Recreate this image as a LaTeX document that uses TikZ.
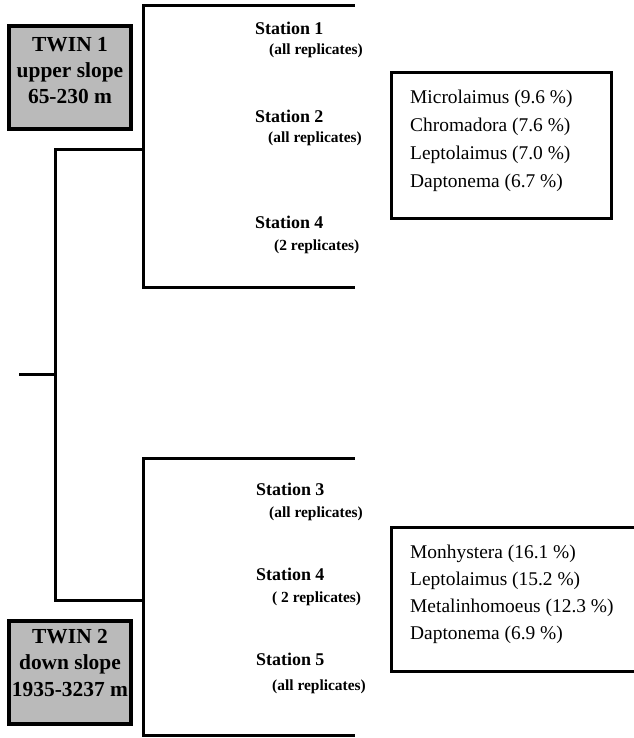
\documentclass[tikz,border=0pt]{standalone}
\usepackage{fontspec}
\setmainfont{Liberation Serif}
\begin{document}
\begin{tikzpicture}[x=1bp,y=-1bp,
  branch/.style={line width=3bp,line cap=rect,line join=miter},
  twinbox/.style={draw,line width=4bp,fill=black!27,minimum width=122bp,minimum height=103bp,inner sep=0pt},
  twintext/.style={align=center,font=\fontsize{21.5}{26.5}\selectfont\bfseries,inner sep=0pt},
  stationlbl/.style={anchor=base west,inner sep=0pt,font=\fontsize{18}{20}\selectfont\bfseries},
  replbl/.style={anchor=base west,inner sep=0pt,font=\fontsize{15.5}{18}\selectfont\bfseries},
  genus/.style={anchor=base west,inner sep=0pt,font=\fontsize{19.5}{22}\selectfont},
  listbox/.style={line width=3bp}
]
\useasboundingbox (0,0) rectangle (634,738);

% dendrogram coordinates
\coordinate (stub) at (20,374);
\coordinate (rootTop) at (55,149);
\coordinate (rootBot) at (55,600);
\coordinate (rootMid) at (55,374);
\coordinate (upJoin) at (143,149);
\coordinate (upTop) at (143,6);
\coordinate (upBot) at (143,287);
\coordinate (upTopEnd) at (353,6);
\coordinate (upBotEnd) at (353,287);
\coordinate (loJoin) at (143,600);
\coordinate (loTop) at (143,458);
\coordinate (loBot) at (143,735);
\coordinate (loTopEnd) at (353,458);
\coordinate (loBotEnd) at (353,735);

\draw[branch] (stub) -- (rootMid);
\draw[branch] (upJoin) -- (rootTop) -- (rootBot) -- (loJoin);
\draw[branch] (upTopEnd) -- (upTop) -- (upBot) -- (upBotEnd);
\draw[branch] (loTopEnd) -- (loTop) -- (loBot) -- (loBotEnd);

% TWIN boxes
\node[twinbox] (twin1) at (70,77.5) {};
\node[twintext] (twin1txt) at (70,70.5) {TWIN 1\\upper slope\\65-230 m};
\node[twinbox] (twin2) at (70,672.5) {};
\node[twintext] (twin2txt) at (70,663) {TWIN 2\\down slope\\1935-3237 m};

% stations, upper group
\node[stationlbl] (s1) at (255,35) {Station 1};
\node[replbl] (r1) at (269,55) {(all replicates)};
\node[stationlbl] (s2) at (255,122) {Station 2};
\node[replbl] (r2) at (268,142) {(all replicates)};
\node[stationlbl] (s4a) at (255,228) {Station 4};
\node[replbl] (r4a) at (274,250) {(2 replicates)};

% stations, lower group
\node[stationlbl] (s3) at (256,495) {Station 3};
\node[replbl] (r3) at (269,517) {(all replicates)};
\node[stationlbl] (s4b) at (256,580) {Station 4};
\node[replbl] (r4b) at (272,602) {( 2 replicates)};
\node[stationlbl] (s5) at (256,665) {Station 5};
\node[replbl] (r5) at (272,690) {(all replicates)};

% genus list, upper
\coordinate (b1nw) at (391,72);
\coordinate (b1se) at (611,218);
\draw[listbox] (b1nw) rectangle (b1se);
\node[genus] (g1) at (410,103) {Microlaimus (9.6 \%)};
\node[genus] (g2) at (410,131) {Chromadora (7.6 \%)};
\node[genus] (g3) at (410,159) {Leptolaimus (7.0 \%)};
\node[genus] (g4) at (410,187) {Daptonema (6.7 \%)};

% genus list, lower (open to the right edge)
\coordinate (b2ne) at (640,527);
\coordinate (b2nw) at (391,527);
\coordinate (b2sw) at (391,671);
\coordinate (b2se) at (640,671);
\draw[listbox] (b2ne) -- (b2nw) -- (b2sw) -- (b2se);
\node[genus] (h1) at (410,558) {Monhystera (16.1 \%)};
\node[genus] (h2) at (410,585) {Leptolaimus (15.2 \%)};
\node[genus] (h3) at (410,612) {Metalinhomoeus (12.3 \%)};
\node[genus] (h4) at (410,639) {Daptonema (6.9 \%)};
\end{tikzpicture}
\end{document}
